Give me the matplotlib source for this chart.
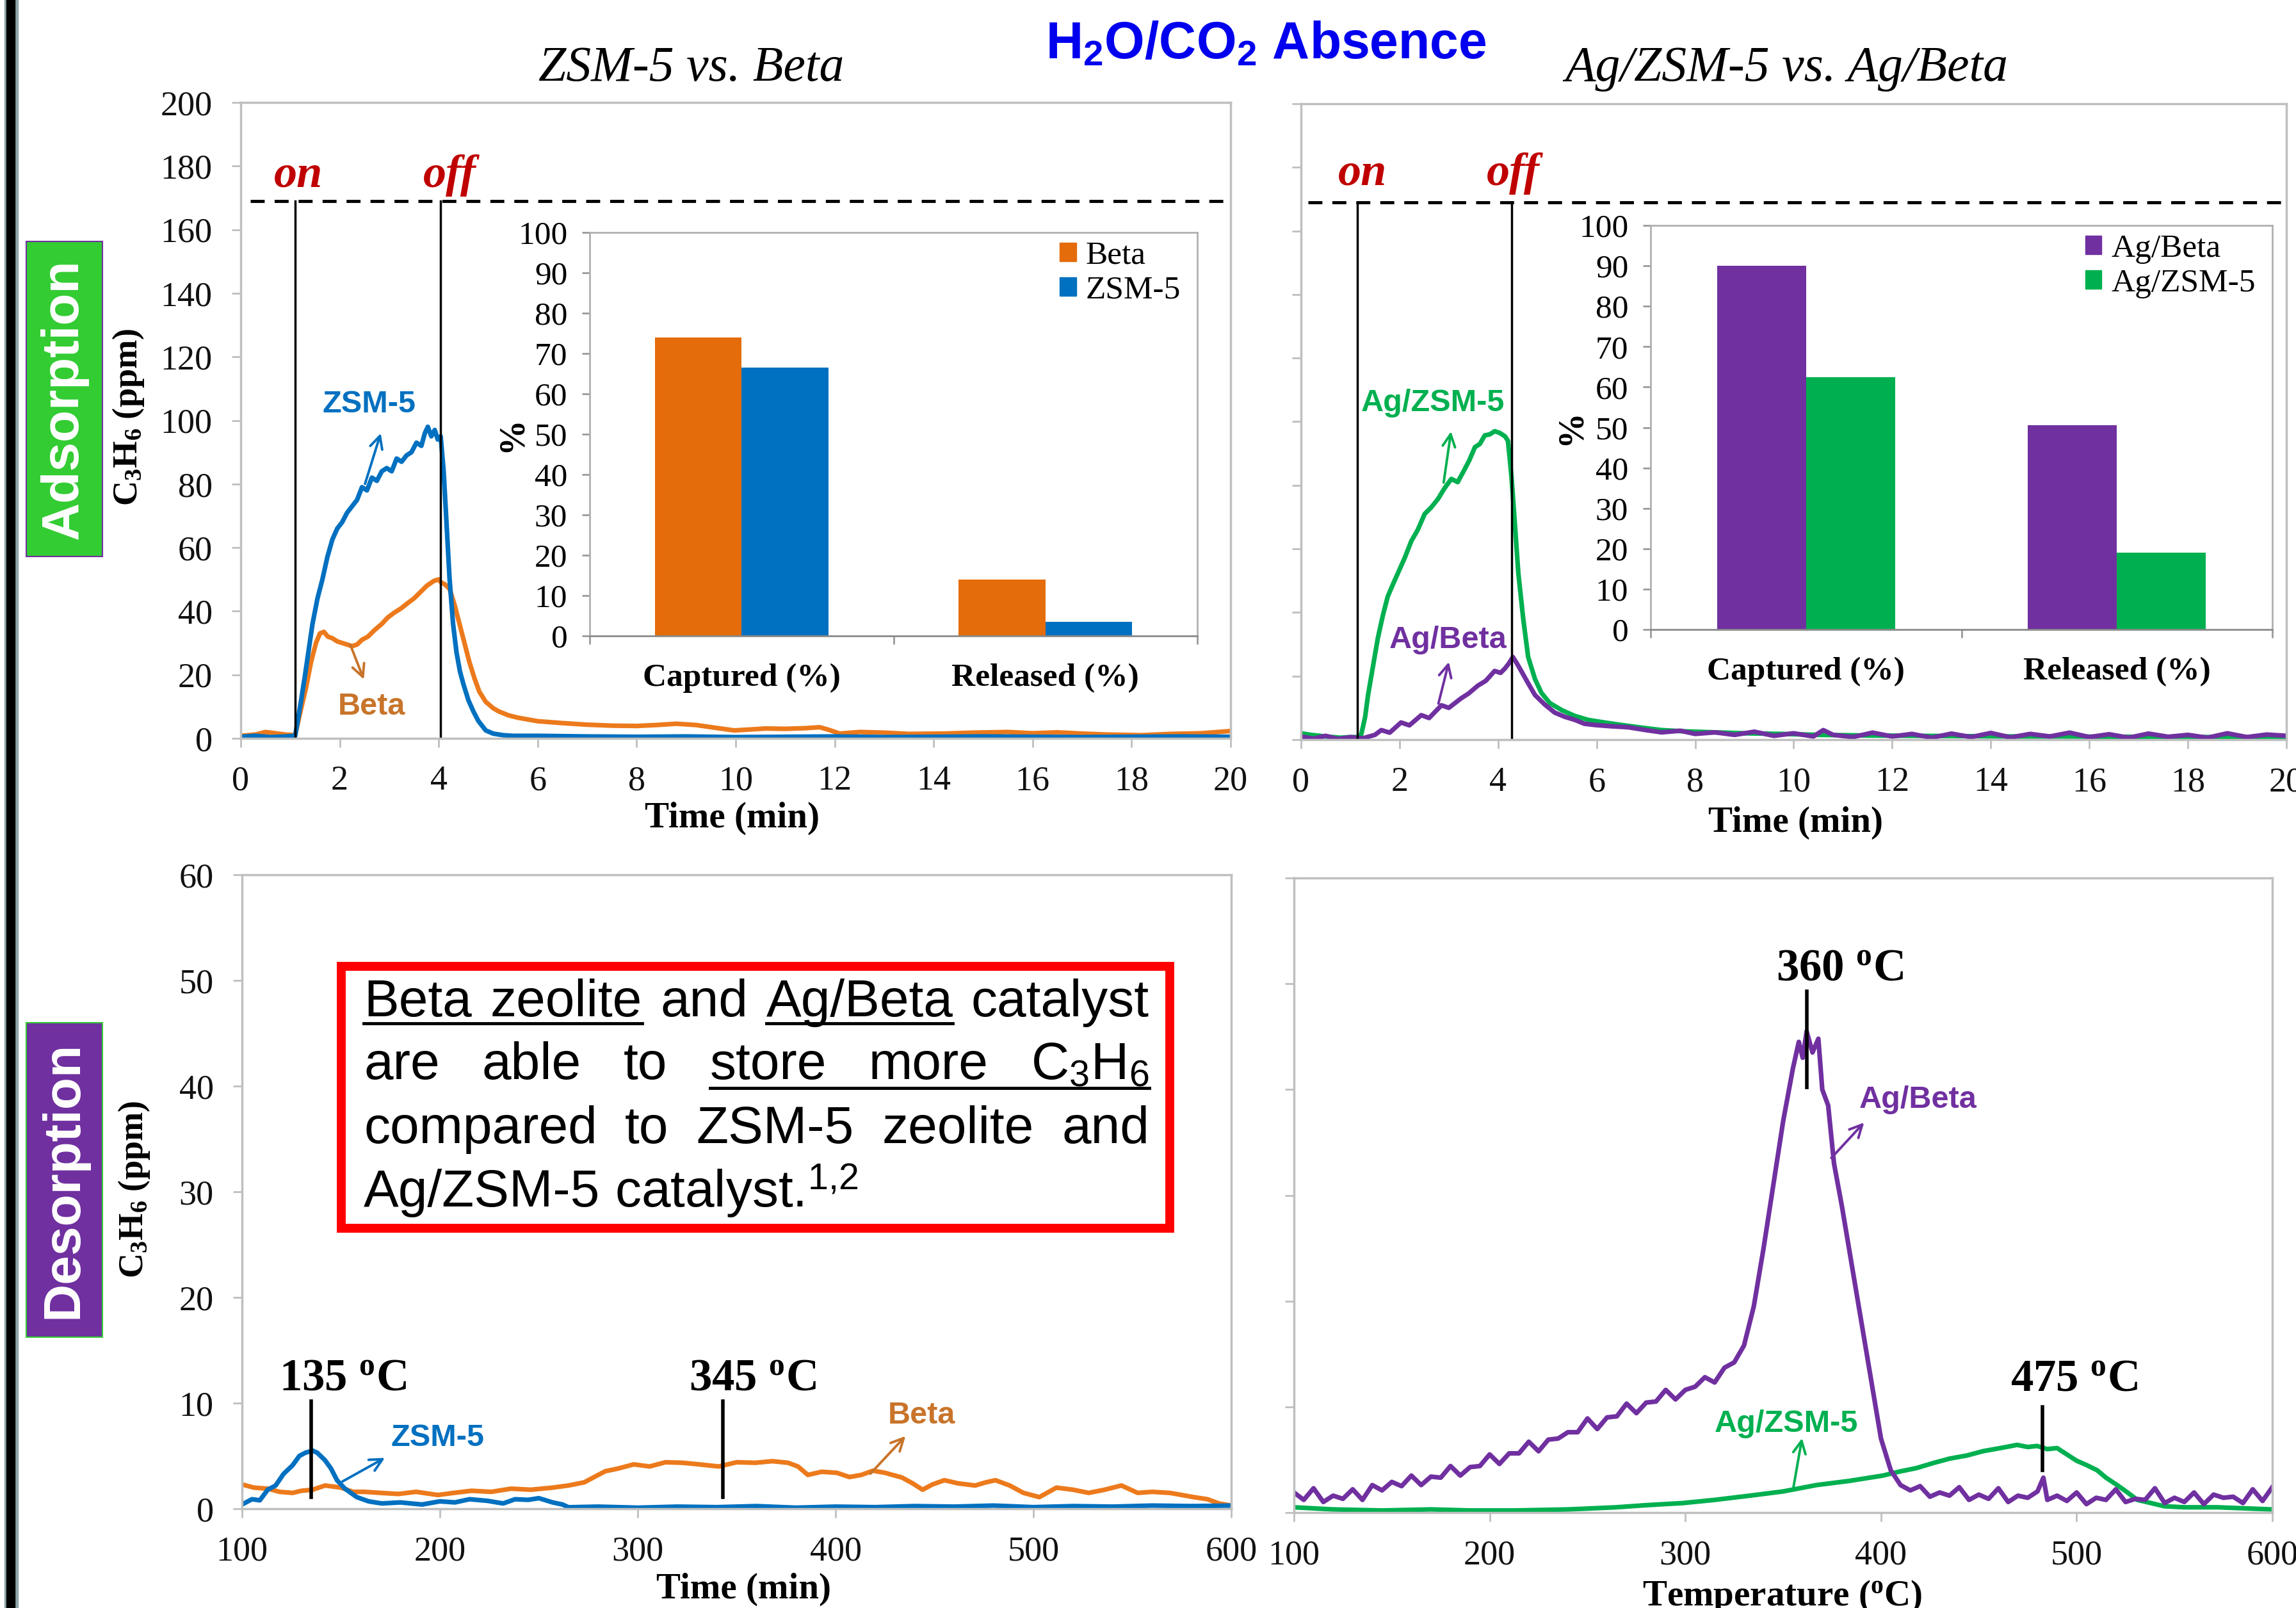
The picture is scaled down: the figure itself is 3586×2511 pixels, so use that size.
import numpy as np
import matplotlib
matplotlib.use('Agg')
import matplotlib.pyplot as plt
from matplotlib.patches import Rectangle, Patch
from matplotlib.lines import Line2D

W, H = 3587, 2511

plt.rcParams['font.family'] = ['Liberation Serif', 'DejaVu Serif']
plt.rcParams['mathtext.fontset'] = 'custom'
plt.rcParams['mathtext.rm'] = 'Liberation Sans'
plt.rcParams['mathtext.sf'] = 'Liberation Sans:bold'
plt.rcParams['mathtext.bf'] = 'Liberation Serif:bold'
plt.rcParams['mathtext.it'] = 'Liberation Serif:italic'

ORANGE = '#EC7A1C'
BLUE = '#0070C0'
PURPLE = '#7030A0'
GREEN = '#00B050'
DARKRED = '#C00000'
SANS = ['Liberation Sans', 'DejaVu Sans']

# ---------------- adsorption, ZSM-5 vs Beta (time in min, C3H6 ppm)
t_zsm5 = [0, 0.3, 0.6, 0.9, 1.1, 1.2, 1.3, 1.45, 1.55, 1.65, 1.75, 1.85, 1.95, 2.05, 2.15,
          2.25, 2.35, 2.45, 2.55, 2.65, 2.75, 2.85, 2.95, 3.05, 3.15, 3.25, 3.35, 3.45, 3.55,
          3.65, 3.72, 3.78, 3.85, 3.92, 3.98, 4.04, 4.1, 4.16, 4.22, 4.29, 4.36, 4.43, 4.5,
          4.6, 4.7, 4.8, 4.95, 5.1, 5.3, 5.5, 6, 7, 8, 9, 10, 11, 12, 13, 14, 15, 16, 17, 18,
          19, 20]
y_zsm5 = [0.5, 0.8, 0.4, 0.6, 0.8, 10, 20, 36, 44, 50, 57, 62.5, 66, 68, 71, 73, 75, 79, 78,
          82, 81, 84, 85, 84, 88, 87, 89, 90, 93, 92, 96, 98, 95, 97, 94, 95, 84, 67, 50, 36,
          27, 21, 17, 12, 8.5, 5.5, 2.5, 1.5, 1.0, 0.8, 0.8, 0.6, 0.5, 0.6, 0.4, 0.5, 0.6, 0.4,
          0.5, 0.6, 0.5, 0.4, 0.5, 0.6, 0.5]
t_beta = [0, 0.3, 0.5, 0.7, 0.9, 1.1, 1.2, 1.32, 1.42, 1.52, 1.6, 1.68, 1.76, 1.85, 1.95,
          2.05, 2.15, 2.25, 2.35, 2.45, 2.57, 2.7, 2.85, 2.97, 3.1, 3.25, 3.37, 3.5, 3.63,
          3.76, 3.9, 4.0, 4.05, 4.12, 4.22, 4.32, 4.42, 4.52, 4.62, 4.72, 4.82, 4.95, 5.1,
          5.21, 5.4, 5.6, 6.0, 6.5, 7.0, 7.5, 8.0, 8.4, 8.8, 9.2, 9.6, 9.97, 10.3, 10.6, 11.0,
          11.4, 11.7, 11.9, 12.1, 12.5, 13, 13.5, 14.2, 14.8, 15.5, 16, 16.5, 17, 17.5, 18.2,
          18.8, 19.4, 20]
y_beta = [0.8, 1.2, 2.0, 1.6, 1.2, 1.0, 8, 16, 24, 30, 33, 33.5, 32, 31.5, 30.5, 30, 29.5,
          29, 29.5, 31, 32, 34, 36, 38, 39.5, 41, 42.5, 44, 46, 48, 49.5, 50, 49, 48.5, 47,
          42, 36, 30, 24, 19, 14.7, 11.5, 9.5, 8.5, 7.3, 6.5, 5.4, 4.8, 4.3, 4.0, 3.9, 4.2,
          4.6, 4.2, 3.3, 2.5, 2.8, 3.1, 3.0, 3.2, 3.5, 2.6, 1.5, 2.0, 1.8, 1.4, 1.5, 1.8, 2.0,
          1.6, 1.9, 1.5, 1.2, 1.0, 1.4, 1.6, 2.3]

# ---------------- adsorption, Ag/ZSM-5 vs Ag/Beta
t_agzsm5 = [0, 0.2, 0.5, 0.8, 1.0, 1.15, 1.22, 1.3, 1.36, 1.46, 1.56, 1.66, 1.76, 1.87, 1.97,
            2.1, 2.24, 2.37, 2.51, 2.64, 2.78, 2.91, 3.05, 3.18, 3.32, 3.42, 3.53, 3.63, 3.73,
            3.83, 3.93, 4.03, 4.14, 4.2, 4.27, 4.34, 4.41, 4.51, 4.61, 4.75, 4.88, 5.05, 5.29,
            5.55, 5.83, 6.2, 6.51, 6.9, 7.32, 7.8, 8.4, 9.0, 9.76, 10.5, 11.5, 12.5, 13.5,
            14.5, 15.5, 16.5, 17.5, 18.5, 19.5, 20]
y_agzsm5 = [2.0, 1.5, 1.0, 0.6, 0.8, 0.8, 1.5, 7, 14, 23, 32, 39, 45, 49, 52.5, 57, 62.5, 66,
            71, 73, 75.7, 79, 82, 81, 85, 88, 92, 93, 95.7, 96, 97, 96.5, 95.4, 94, 83, 68,
            52.5, 38, 26, 19, 14.7, 11.5, 9.3, 7.5, 6.2, 5.3, 4.6, 3.8, 3.0, 2.6, 2.3, 2.0,
            1.8, 1.5, 1.3, 1.2, 1.1, 1.0, 1.0, 0.9, 0.9, 0.8, 0.8, 0.8]
t_agbeta = [0, 0.25, 0.5, 0.75, 1.0, 1.25, 1.5, 1.63, 1.8, 2.03, 2.2, 2.44, 2.6, 2.85, 3.0,
            3.25, 3.4, 3.59, 3.75, 3.93, 4.05, 4.14, 4.22, 4.3, 4.38, 4.47, 4.6, 4.75, 4.95,
            5.15, 5.35, 5.56, 5.75, 5.97, 6.3, 6.64, 7.0, 7.32, 7.7, 8.0, 8.4, 8.8, 9.2, 9.6,
            10.0, 10.4, 10.6, 10.8, 11.2, 11.6, 12.0, 12.4, 12.8, 13.2, 13.6, 14.0, 14.4,
            14.8, 15.2, 15.6, 16.0, 16.4, 16.8, 17.2, 17.6, 18.0, 18.4, 18.8, 19.2, 19.6, 20]
y_agbeta = [1.0, 0.3, 1.2, 0.2, 0.8, 0.4, 1.5, 3.0, 2.2, 5.4, 4.5, 7.7, 6.8, 10.8, 10.0, 13,
            14.5, 17, 18.5, 21.6, 21.0, 22.4, 24, 26, 24, 21.6, 18, 14, 11, 8.5, 7.2, 6.2,
            5.0, 4.6, 4.2, 3.9, 3.0, 2.3, 2.8, 1.8, 2.3, 1.5, 2.5, 1.2, 2.0, 1.0, 3.0, 1.5,
            0.8, 2.2, 1.0, 1.8, 0.6, 1.9, 0.8, 2.1, 0.7, 1.8, 1.0, 2.2, 0.8, 1.7, 0.6, 1.9,
            0.9, 1.5, 0.6, 2.0, 0.8, 1.6, 1.2]

feed_level = 169
on_off_left = [1.1, 4.04]
on_off_right = [1.15, 4.27]

# ---------------- inset bar charts (%)
bar_cats = ['Captured (%)', 'Released (%)']
bar_beta = [74, 14]
bar_zsm5 = [66.5, 3.5]
bar_agbeta = [90, 50.5]
bar_agzsm5 = [62.5, 19]

# ---------------- desorption, ZSM-5 vs Beta
T_zsm5 = [100, 105, 109, 113, 117, 121, 125.5, 129, 132, 135.7, 138, 141.9, 145, 148, 152,
          158, 164, 170.7, 180, 191, 200, 207.6, 215, 224, 232, 238, 244.6, 250, 257, 262,
          265, 280, 300, 320, 340, 360, 380, 400, 420, 440, 460, 480, 500, 520, 540, 560,
          580, 600]
d_zsm5 = [0.4, 0.9, 0.8, 1.8, 2.2, 3.3, 4.1, 5.0, 5.3, 5.5, 5.3, 4.6, 3.8, 2.7, 1.9, 1.1,
          0.7, 0.5, 0.6, 0.4, 0.7, 0.6, 0.9, 0.75, 0.5, 0.9, 0.84, 1.0, 0.6, 0.4, 0.14, 0.2,
          0.1, 0.2, 0.15, 0.25, 0.1, 0.2, 0.15, 0.25, 0.2, 0.3, 0.15, 0.25, 0.2, 0.3, 0.25,
          0.3]
T_beta = [100, 106, 113, 119, 125.5, 130, 135.7, 142, 150, 156, 162, 170, 179, 188, 199,
          207, 216, 226, 236, 246, 257, 265, 273, 278, 283.6, 290, 298, 306, 314, 322.7, 331,
          341, 350, 359.6, 368, 376, 381, 386, 393, 400.7, 407, 413, 419, 425, 433.6, 439,
          444, 449, 455, 462, 470.6, 476, 480.8, 488, 495, 503, 511.7, 520, 528, 536, 544.5,
          552.7, 560, 569, 575, 581, 588, 593.8, 600]
d_beta = [2.3, 2.0, 1.9, 1.6, 1.5, 1.7, 1.8, 2.2, 2.0, 1.6, 1.6, 1.5, 1.4, 1.6, 1.3, 1.5,
          1.7, 1.6, 1.9, 1.8, 2.0, 2.2, 2.5, 3.0, 3.55, 3.8, 4.2, 4.0, 4.4, 4.35, 4.2, 4.0,
          4.4, 4.35, 4.5, 4.35, 4.0, 3.2, 3.5, 3.4, 3.0, 3.2, 3.6, 3.4, 2.95, 2.4, 1.8, 2.3,
          2.7, 2.4, 2.2, 2.5, 2.7, 2.2, 1.5, 1.1, 2.0, 1.8, 1.5, 1.8, 2.2, 1.5, 1.6, 1.5, 1.3,
          1.1, 0.9, 0.5, 0.3]

# ---------------- desorption, Ag/ZSM-5 vs Ag/Beta (temperature)
T_agbeta = [100, 105, 110, 115, 120, 125, 130, 135, 140, 145, 150, 155, 160, 165, 170, 175,
            180, 185, 190, 195, 200, 205, 210, 215, 220, 225, 230, 235, 240, 245, 250, 255,
            260, 265, 270, 275, 280, 285, 290, 295, 300, 305, 310, 315, 320, 325, 330, 335,
            340, 345, 350, 355, 358, 360, 362, 365, 368, 370, 373, 376, 380, 385, 390, 395,
            400, 405, 410, 415, 420, 425, 430, 435, 440, 445, 450, 455, 460, 465, 470, 475,
            480, 483, 485, 490, 495, 500, 505, 510, 515, 520, 525, 530, 535, 540, 545, 550,
            555, 560, 565, 570, 575, 580, 585, 590, 595, 600]
d_agbeta = [1.9, 1.2, 2.3, 1.0, 1.6, 1.3, 2.2, 1.2, 2.6, 2.1, 2.9, 2.5, 3.5, 2.6, 3.4, 3.3,
            4.4, 3.5, 4.3, 4.4, 5.5, 4.6, 5.6, 5.6, 6.7, 5.8, 6.9, 7.0, 7.6, 7.6, 8.9, 7.9,
            9.0, 9.1, 10.3, 9.4, 10.4, 10.5, 11.6, 10.7, 11.6, 11.9, 12.8, 12.3, 13.7, 14.2,
            15.8, 19.5, 25.0, 31.0, 37.0, 42.0, 44.5, 43.0, 45.5, 43.5, 44.8, 40.0, 38.5,
            33.0, 29.0, 23.5, 18.0, 12.5, 7.0, 4.0, 2.6, 2.1, 2.5, 1.5, 1.9, 1.6, 2.4, 1.2,
            1.7, 1.3, 2.3, 1.0, 1.6, 1.4, 2.0, 3.3, 1.2, 1.6, 1.1, 1.9, 0.8, 1.4, 1.2, 2.2,
            1.0, 1.3, 1.2, 2.3, 0.9, 1.4, 1.0, 1.9, 0.8, 1.7, 1.4, 1.5, 0.9, 2.2, 1.1, 2.4]
T_agzsm5 = [100, 120, 145, 170, 190, 213, 240, 264.6, 280, 298.8, 315, 333, 350, 367, 384,
            401, 410, 418, 427, 435, 444, 452, 461, 469.6, 475, 479.8, 485, 490, 495, 500,
            505, 510.5, 515, 520.7, 526, 531, 538, 544.7, 555, 572, 586, 600]
d_agzsm5 = [0.5, 0.3, 0.2, 0.3, 0.2, 0.2, 0.3, 0.5, 0.7, 0.9, 1.2, 1.6, 2.0, 2.6, 3.0, 3.5,
            3.9, 4.2, 4.7, 5.1, 5.4, 5.8, 6.1, 6.4, 6.2, 6.3, 6.0, 6.1, 5.5, 4.9, 4.5, 4.0,
            3.3, 2.6, 1.9, 1.2, 0.9, 0.6, 0.5, 0.5, 0.4, 0.3]


def fbox(l, t, r, b):
    return [l / W, 1 - b / H, (r - l) / W, (b - t) / H]


def ftext(x, y, s, **kw):
    return fig.text(x / W, 1 - y / H, s, **kw)


def style_main(ax, xlim, ylim, xt, yt, ylab=True):
    ax.set_xlim(*xlim)
    ax.set_ylim(*ylim)
    ax.set_xticks(xt)
    ax.set_yticks(yt)
    for sp in ax.spines.values():
        sp.set_color('#BFBFBF')
        sp.set_linewidth(2.5)
    ax.tick_params(direction='out', length=10, width=2, color='#BFBFBF',
                   labelsize=39, labelcolor='#111111')
    ax.tick_params(axis='x', pad=20)
    ax.tick_params(axis='y', pad=22, labelleft=ylab)
    ax.set_facecolor('none')


def style_inset(ax, s1, s2, c1, c2, n1, n2):
    x = np.arange(len(bar_cats))
    ax.bar(x - 0.143, s1, 0.286, color=c1)
    ax.bar(x + 0.143, s2, 0.286, color=c2)
    ax.set_xlim(-0.5, 1.5)
    ax.set_ylim(0, 100)
    ax.set_yticks(range(0, 101, 10))
    ax.set_xticks(x)
    ax.set_xticklabels(bar_cats, fontweight='bold', fontsize=37)
    ax.tick_params(axis='x', which='major', length=0, pad=31)
    ax.set_xticks([-0.5, 0.5, 1.5], minor=True)
    ax.tick_params(axis='x', which='minor', length=9, width=2, color='#9A9A9A')
    ax.tick_params(axis='y', length=9, width=2, color='#9A9A9A', labelsize=37, pad=16)
    for sp in ax.spines.values():
        sp.set_color('#B0B0B0')
        sp.set_linewidth(2)
    ax.spines['bottom'].set_color('#8A8A8A')
    ax.set_facecolor('none')
    ax.text(-0.128, 0.5, '%', transform=ax.transAxes, rotation=90, fontsize=40,
            fontweight='bold', ha='center', va='center')
    ax.legend([Patch(color=c1), Patch(color=c2)], [n1, n2], loc='upper right',
              bbox_to_anchor=(1.0, 1.02), frameon=False, fontsize=37, handlelength=0.5,
              handleheight=0.5, handletextpad=0.3, labelspacing=0.15, borderaxespad=0.1)


def arrow(ax, tail, head, c):
    ax.annotate('', xy=head, xytext=tail,
                arrowprops=dict(arrowstyle='->', color=c, lw=2.8, mutation_scale=35))


fig = plt.figure(figsize=(W / 100, H / 100), dpi=100)

# left frame bar
fig.patches.append(Rectangle((7 / W, 0), 21 / W, 1, transform=fig.transFigure,
                             color='#8FA6AA', zorder=0))
fig.patches.append(Rectangle((10 / W, 0), 13 / W, 1, transform=fig.transFigure,
                             color='black', zorder=0))

ax_tl = fig.add_axes(fbox(376, 160, 1922, 1153))
ax_tr = fig.add_axes(fbox(2032, 162, 3571, 1155))
ax_bl = fig.add_axes(fbox(378, 1366, 1923, 2356))
ax_br = fig.add_axes(fbox(2021, 1371, 3549, 2362))
in_tl = fig.add_axes(fbox(921, 363, 1870, 993))
in_tr = fig.add_axes(fbox(2578, 352, 3549, 983))

lw = 5.2
TXT = dict(fontsize=35, fontweight='bold', family=SANS, ha='center', va='center')
ONOFF = dict(color=DARKRED, fontsize=52, fontweight='bold', style='italic', ha='center',
             va='center')
PEAK = dict(fontsize=51, fontweight='bold', ha='center', va='center')

# ---- top-left
ax_tl.plot(t_beta, y_beta, color=ORANGE, lw=lw)
ax_tl.plot(t_zsm5, y_zsm5, color=BLUE, lw=lw)
style_main(ax_tl, (0, 20), (0, 200), range(0, 21, 2), range(0, 201, 20))
ax_tl.plot([0.2, 20], [feed_level, feed_level], color='black', lw=3.5, dashes=(4.5, 3.2))
for xv in on_off_left:
    ax_tl.plot([xv, xv], [0, feed_level], color='black', lw=2.5)
ax_tl.text(1.16, 177, 'on', **ONOFF)
ax_tl.text(4.22, 177, 'off', **ONOFF)
ax_tl.text(2.6, 105, 'ZSM-5', color=BLUE, **TXT)
arrow(ax_tl, (2.5, 79.5), (2.84, 96.5), BLUE)
ax_tl.text(2.64, 10, 'Beta', color='#C8742A', **TXT)
arrow(ax_tl, (2.2, 30), (2.5, 18), '#C8742A')

# ---- top-right
ax_tr.plot(t_agzsm5, y_agzsm5, color=GREEN, lw=lw)
ax_tr.plot(t_agbeta, y_agbeta, color=PURPLE, lw=lw)
style_main(ax_tr, (0, 20), (0, 200), range(0, 21, 2), range(0, 201, 20), ylab=False)
ax_tr.plot([0.14, 20], [feed_level, feed_level], color='black', lw=3.5, dashes=(4.5, 3.2))
for xv in on_off_right:
    ax_tr.plot([xv, xv], [0, feed_level], color='black', lw=2.5)
ax_tr.text(1.25, 178, 'on', **ONOFF)
ax_tr.text(4.31, 178, 'off', **ONOFF)
ax_tr.text(2.68, 105.8, 'Ag/ZSM-5', color=GREEN, **TXT)
arrow(ax_tr, (2.89, 80.3), (3.05, 97.5), GREEN)
ax_tr.text(2.98, 31.4, 'Ag/Beta', color=PURPLE, **TXT)
arrow(ax_tr, (2.78, 10.8), (3.01, 25), PURPLE)

# ---- insets
style_inset(in_tl, bar_beta, bar_zsm5, '#E46C0A', BLUE, 'Beta', 'ZSM-5')
style_inset(in_tr, bar_agbeta, bar_agzsm5, PURPLE, GREEN, 'Ag/Beta', 'Ag/ZSM-5')

# ---- bottom-left
ax_bl.plot(T_beta, d_beta, color=ORANGE, lw=lw)
ax_bl.plot(T_zsm5, d_zsm5, color=BLUE, lw=lw)
style_main(ax_bl, (100, 600), (0, 60), range(100, 601, 100), range(0, 61, 10))
ax_bl.plot([135, 135], [1.1, 10.2], color='black', lw=4)
ax_bl.plot([343, 343], [1.1, 10.2], color='black', lw=4)
ax_bl.text(151, 12.3, r'135 $^{\mathbf{o}}$C', **PEAK)
ax_bl.text(358, 12.3, r'345 $^{\mathbf{o}}$C', **PEAK)
ax_bl.text(199, 6.7, 'ZSM-5', color=BLUE, **TXT)
arrow(ax_bl, (150, 2.5), (173, 4.9), BLUE)
ax_bl.text(443.5, 8.8, 'Beta', color='#C8742A', **TXT)
arrow(ax_bl, (417, 3.2), (436, 7.0), '#C8742A')

# ---- bottom-right
ax_br.plot(T_agzsm5, d_agzsm5, color=GREEN, lw=lw)
ax_br.plot(T_agbeta, d_agbeta, color=PURPLE, lw=lw)
style_main(ax_br, (100, 600), (0, 60), range(100, 601, 100), range(0, 61, 10), ylab=False)
ax_br.plot([362, 362], [40.2, 49.3], color='black', lw=4)
ax_br.plot([482.5, 482.5], [4, 10], color='black', lw=4)
ax_br.text(379, 51.4, r'360 $^{\mathbf{o}}$C', **PEAK)
ax_br.text(498.6, 12.6, r'475 $^{\mathbf{o}}$C', **PEAK)
ax_br.text(419, 39, 'Ag/Beta', color=PURPLE, **TXT)
arrow(ax_br, (374, 33.4), (392, 37), PURPLE)
ax_br.text(351.6, 8.4, 'Ag/ZSM-5', color=GREEN, **TXT)
arrow(ax_br, (355, 2.1), (359.8, 7.2), GREEN)

# ---- figure-level labels
ftext(1977, 71, r'H$_\mathsf{2}$O/CO$_\mathsf{2}$ Absence', color='#0000EE', fontsize=58,
      fontweight='bold', family=SANS, ha='center', va='center')
ftext(1080, 107, 'ZSM-5 vs. Beta', fontsize=56, style='italic', ha='center', va='center')
ftext(2790, 107, 'Ag/ZSM-5 vs. Ag/Beta', fontsize=56, style='italic', ha='center',
      va='center')
XL = dict(fontsize=41, fontweight='bold', ha='center', va='center')
ftext(1144, 1278, 'Time (min)', **XL)
ftext(2805, 1285, 'Time (min)', **XL)
ftext(1162, 2482, 'Time (min)', **XL)
ftext(2784, 2493, r'Temperature ($^{\mathbf{o}}$C)', **XL)
ylab = r'C$_\mathbf{3}$H$_\mathbf{6}$ (ppm)'
ftext(201, 652, ylab, fontsize=39, fontweight='bold', rotation=90, ha='center', va='center')
ftext(210, 1858, ylab, fontsize=39, fontweight='bold', rotation=90, ha='center', va='center')

# side tags
fig.patches.append(Rectangle((41 / W, 1 - 869 / H), 119 / W, 492 / H,
                             transform=fig.transFigure, facecolor='#33CC33',
                             edgecolor=PURPLE, lw=1.5))
ftext(100, 623, 'Adsorption', color='white', fontsize=59, fontweight='bold', family=SANS,
      rotation=90, ha='center', va='center')
fig.patches.append(Rectangle((41 / W, 1 - 2088 / H), 119 / W, 491 / H,
                             transform=fig.transFigure, facecolor=PURPLE,
                             edgecolor='#33CC33', lw=1.5))
ftext(100, 1842, 'Desorption', color='white', fontsize=59, fontweight='bold', family=SANS,
      rotation=90, ha='center', va='center')

# red message box
fig.patches.append(Rectangle((533 / W, 1 - 1918 / H), 1294 / W, 409 / H,
                             transform=fig.transFigure, facecolor='white',
                             edgecolor='#FF0000', lw=10, zorder=2))

box_lines = [
    ([('Beta', True), ('zeolite', True), ('and', False), ('Ag/Beta', True),
      ('catalyst', False)], 1587, True, 11),
    ([('are', False), ('able', False), ('to', False), ('store', True), ('more', True),
      ('C$_3$H$_6$', True)], 1685, True, 14),
    ([('compared', False), ('to', False), ('ZSM-5', False), ('zeolite', False),
      ('and', False)], 1785, True, 11),
    ([('Ag/ZSM-5', False), ('catalyst.$^{1{,}2}$', False)], 1884, False, 11),
]
x_left, x_right = 568, 1795
renderer = fig.canvas.get_renderer()
for tokens, base, justify, ul in box_lines:
    arts = []
    for s, u in tokens:
        t = ftext(0, base, s, fontsize=59, family=SANS, ha='left', va='baseline', zorder=5)
        arts.append((t, u))
    widths = [t.get_window_extent(renderer).width for t, _ in arts]
    if justify:
        gap = (x_right - x_left - sum(widths)) / (len(arts) - 1)
    else:
        gap = 23
    x = x_left
    run = None
    runs = []
    for (t, u), w in zip(arts, widths):
        t.set_x(x / W)
        if u:
            if run is None:
                run = [x, x + w]
            else:
                run[1] = x + w
        elif run is not None:
            runs.append(run)
            run = None
        x += w + gap
    if run is not None:
        runs.append(run)
    for a, b in runs:
        fig.add_artist(Line2D([a / W, b / W], [1 - (base + ul) / H] * 2,
                              transform=fig.transFigure, color='black', lw=3.5, zorder=5))

fig.savefig('out.png', dpi=100)
